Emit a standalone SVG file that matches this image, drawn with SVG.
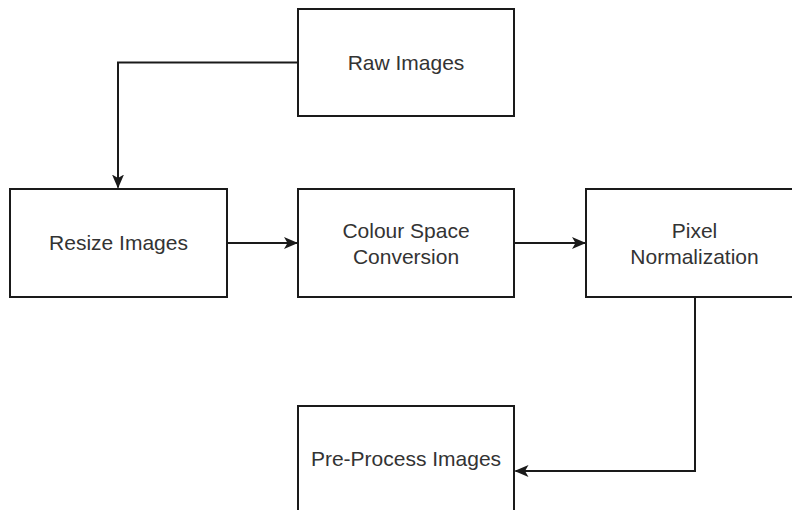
<svg xmlns="http://www.w3.org/2000/svg" width="792" height="510" viewBox="0 0 792 510">
<defs>
<style>
.box{fill:#ffffff;stroke:#1a1a1a;stroke-width:2}
.lbl{font-family:"Liberation Sans",Arial,sans-serif;font-size:21px;fill:#333333;text-anchor:middle}
.edge{fill:none;stroke:#1a1a1a;stroke-width:2}
</style>
<marker id="arr" viewBox="0 0 14 12" refX="13" refY="6" markerWidth="14" markerHeight="12" markerUnits="userSpaceOnUse" orient="auto">
<path d="M0,0 L14,6 L0,12 L3.5,6 Z" fill="#1a1a1a"/>
</marker>
</defs>
<rect width="792" height="510" fill="#ffffff"/>
<g id="connectors">
<path class="edge" d="M298,62.5 H118 V187.5" marker-end="url(#arr)"/>
<path class="edge" d="M227,243 H297" marker-end="url(#arr)"/>
<path class="edge" d="M514,243 H585" marker-end="url(#arr)"/>
<path class="edge" d="M695,297 V471 H515.5" marker-end="url(#arr)"/>
</g>
<g id="raw-images">
<rect class="box" x="298" y="9" width="216" height="107"/>
<text class="lbl" x="406" y="69.5">Raw Images</text>
</g>
<g id="resize-images">
<rect class="box" x="10" y="189" width="217" height="108"/>
<text class="lbl" x="118.5" y="250">Resize Images</text>
</g>
<g id="colour-space-conversion">
<rect class="box" x="298" y="189" width="216" height="108"/>
<text class="lbl" x="406" y="237.5">Colour Space</text>
<text class="lbl" x="406" y="263.5">Conversion</text>
</g>
<g id="pixel-normalization">
<rect class="box" x="586" y="189" width="217" height="108"/>
<text class="lbl" x="694.5" y="237.5">Pixel</text>
<text class="lbl" x="694.5" y="263.5">Normalization</text>
</g>
<g id="pre-process-images">
<rect class="box" x="298" y="406" width="216" height="108"/>
<text class="lbl" x="406" y="465.5">Pre-Process Images</text>
</g>
</svg>
